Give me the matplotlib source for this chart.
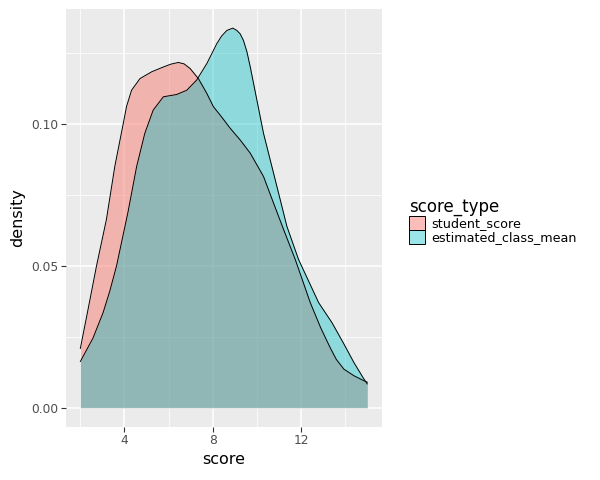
import matplotlib
matplotlib.use('Agg')
import matplotlib.pyplot as plt
from matplotlib.colors import to_rgb
from matplotlib.patches import Patch

# curvas de densidad
x_student = [2.0, 2.35, 2.73, 3.18, 3.56, 3.94, 4.09, 4.32, 4.7, 5.23, 5.76, 6.1, 6.44,
             6.7, 6.97, 7.35, 7.73, 8.03, 8.4, 8.79, 9.24, 9.7, 10.3, 10.75, 11.21,
             11.74, 12.42, 12.9, 13.33, 13.6, 13.94, 14.39, 14.85, 15.0]
d_student = [0.0209, 0.0347, 0.0499, 0.0663, 0.0850, 0.1000, 0.1061, 0.1119, 0.1160,
             0.1184, 0.1201, 0.1211, 0.1217, 0.1212, 0.1196, 0.1160, 0.1108, 0.1061,
             0.1025, 0.0985, 0.0944, 0.0897, 0.0815, 0.0722, 0.0628, 0.0522, 0.0370,
             0.0280, 0.0210, 0.0170, 0.0136, 0.0113, 0.0095, 0.0090]

x_class = [2.0, 2.57, 3.03, 3.33, 3.64, 4.16, 4.55, 4.92, 5.3, 5.76, 6.36, 6.82, 7.27,
           7.73, 8.18, 8.4, 8.64, 8.91, 9.09, 9.24, 9.39, 9.55, 9.7, 10.0, 10.3, 10.55,
           10.98, 11.36, 11.89, 12.8, 13.4, 13.94, 14.39, 14.85, 15.0]
d_class = [0.0163, 0.0245, 0.0335, 0.0410, 0.0500, 0.0690, 0.0850, 0.0967, 0.1049,
           0.1096, 0.1104, 0.1119, 0.1155, 0.1213, 0.1283, 0.1310, 0.1330, 0.1338,
           0.1330, 0.1318, 0.1295, 0.1254, 0.1201, 0.1084, 0.0967, 0.0890, 0.0757,
           0.0639, 0.0522, 0.0370, 0.0300, 0.0225, 0.0160, 0.0101, 0.0084]

grupos = ['student_score', 'estimated_class_mean']
colores = ['#F8766D', '#00BFC4']
alfas = [0.48, 0.4]

fig = plt.figure(figsize=(6, 4.8), dpi=100)
ax = fig.add_axes([0.110, 0.111, 0.526, 0.870])
ax.set_facecolor('#EBEBEB')

series = [(x_student, d_student), (x_class, d_class)]
for (xs, ds), col, a in zip(series, colores, alfas):
    ax.fill_between(xs, 0, ds, color=col, alpha=a, linewidth=0, zorder=2)
    ax.plot(xs, ds, color='black', linewidth=0.7, zorder=3)

ax.set_xlim(1.35, 15.65)
ax.set_ylim(-0.0067, 0.1405)
ax.set_xticks([4, 8, 12])
ax.set_xticks([2, 6, 10, 14], minor=True)
ax.set_yticks([0.0, 0.05, 0.10])
ax.set_yticklabels(['0.00', '0.05', '0.10'])
ax.set_yticks([0.025, 0.075, 0.125], minor=True)
ax.grid(which='major', color='white', linewidth=1.1, zorder=0)
ax.grid(which='minor', color='white', linewidth=0.55, zorder=0)
ax.set_axisbelow(True)
for s in ax.spines.values():
    s.set_visible(False)
ax.tick_params(which='major', length=3.5, width=0.8, color='#333333',
               labelcolor='#4D4D4D', labelsize=8.8, pad=2)
ax.tick_params(which='minor', length=0)

ax.set_xlabel('score', fontsize=11.5, labelpad=3)
ax.set_ylabel('density', fontsize=11.5, labelpad=4)

handles = [Patch(facecolor=(*to_rgb(c), a), edgecolor='black', linewidth=0.7)
           for c, a in zip(colores, alfas)]
fig.legend(handles, grupos, title='score_type', loc='center left',
           bbox_to_anchor=(0.662, 0.54), frameon=False, fontsize=9.2,
           title_fontsize=12, handlelength=1.3, handleheight=1.3,
           handletextpad=0.45, labelspacing=0.0, alignment='left')

plt.savefig('out.png', dpi=100)
